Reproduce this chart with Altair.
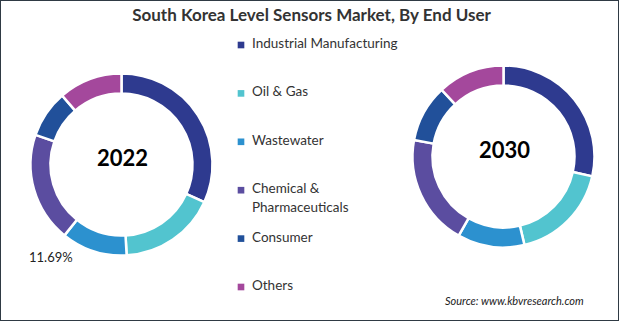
import altair as alt
import pandas as pd

categories = ["Industrial Manufacturing", "Oil & Gas", "Wastewater",
              "Chemical & Pharmaceuticals", "Consumer", "Others"]
legend_labels = ["Industrial Manufacturing", "Oil & Gas", "Wastewater",
                 "Chemical &\nPharmaceuticals", "Consumer", "Others"]
share_2022 = [31.8, 17.3, 11.69, 19.5, 8.4, 11.31]
share_2030 = [28.5, 17.8, 11.9, 19.7, 10.2, 11.9]
years = ["2022", "2030"]
colors = ["#2E3A8F", "#52C4CF", "#2C91CF", "#5B4DA0", "#21509A", "#A4489C"]

title_text = "South Korea Level Sensors Market, By End User"
source_text = "Source: www.kbvresearch.com"
FONT = "Lato"

rows = []
for yr, shares in zip(years, [share_2022, share_2030]):
    for i, (c, s) in enumerate(zip(categories, shares)):
        rows.append({"year": yr, "category": c, "share": s, "idx": i})
df = pd.DataFrame(rows)

color_scale = alt.Scale(domain=categories, range=colors)


def donut(year, cx, cy):
    base = alt.Chart(df).transform_filter(alt.datum.year == year)
    ring = base.mark_arc(radius=91, radius2=71, stroke="white", strokeWidth=2.5).encode(
        theta=alt.Theta("share:Q", stack=True),
        color=alt.Color("category:N", scale=color_scale, legend=None),
        order=alt.Order("idx:Q"),
        x=alt.value(cx), y=alt.value(cy),
    )
    center = alt.Chart(pd.DataFrame({"year": [year]})).mark_text(
        font=FONT, fontSize=22, fontWeight="bold", color="#000000"
    ).encode(text="year:N", x=alt.value(cx + 1), y=alt.value(cy - 6))
    return ring, center


ring22, c22 = donut("2022", 121.5, 164.5)
ring30, c30 = donut("2030", 503.5, 156.5)

pct_label = alt.Chart(df).transform_filter(
    (alt.datum.year == "2022") & (alt.datum.category == "Wastewater")
).transform_calculate(
    lbl="format(datum.share, '.2f') + '%'"
).mark_text(font=FONT, fontSize=13, align="left", color="#222222").encode(
    text="lbl:N", x=alt.value(29), y=alt.value(258)
)

leg_df = pd.DataFrame({"category": categories, "label": legend_labels})
ypos = alt.Y("category:N", sort=categories,
             scale=alt.Scale(type="point", range=[45, 287], padding=0), axis=None)
leg_sq = alt.Chart(leg_df).mark_square(size=44, opacity=1).encode(
    x=alt.value(241), y=ypos,
    color=alt.Color("category:N", scale=color_scale, legend=None),
)
leg_txt = alt.Chart(leg_df).mark_text(
    font=FONT, fontSize=13.5, align="left", baseline="top", dy=-8,
    lineBreak="\n", lineHeight=19, color="#333333"
).encode(x=alt.value(252), y=ypos, text="label:N")

title = alt.Chart(pd.DataFrame({"t": [title_text]})).mark_text(
    font=FONT, fontSize=17, fontWeight="bold", color="#333333"
).encode(text="t:N", x=alt.value(311.5), y=alt.value(16))

source = alt.Chart(pd.DataFrame({"t": [source_text]})).mark_text(
    font=FONT, fontSize=11, fontStyle="italic", align="left", color="#222222"
).encode(text="t:N", x=alt.value(445), y=alt.value(302))

chart = alt.layer(
    ring22, ring30, c22, c30, pct_label, leg_sq, leg_txt, title, source
).properties(
    width=619, height=321, padding=0, autosize="none", background="white"
).configure_view(stroke="#2f3a44", strokeWidth=2)

chart.save("out.html", embed_options={"renderer": "svg", "actions": False})
